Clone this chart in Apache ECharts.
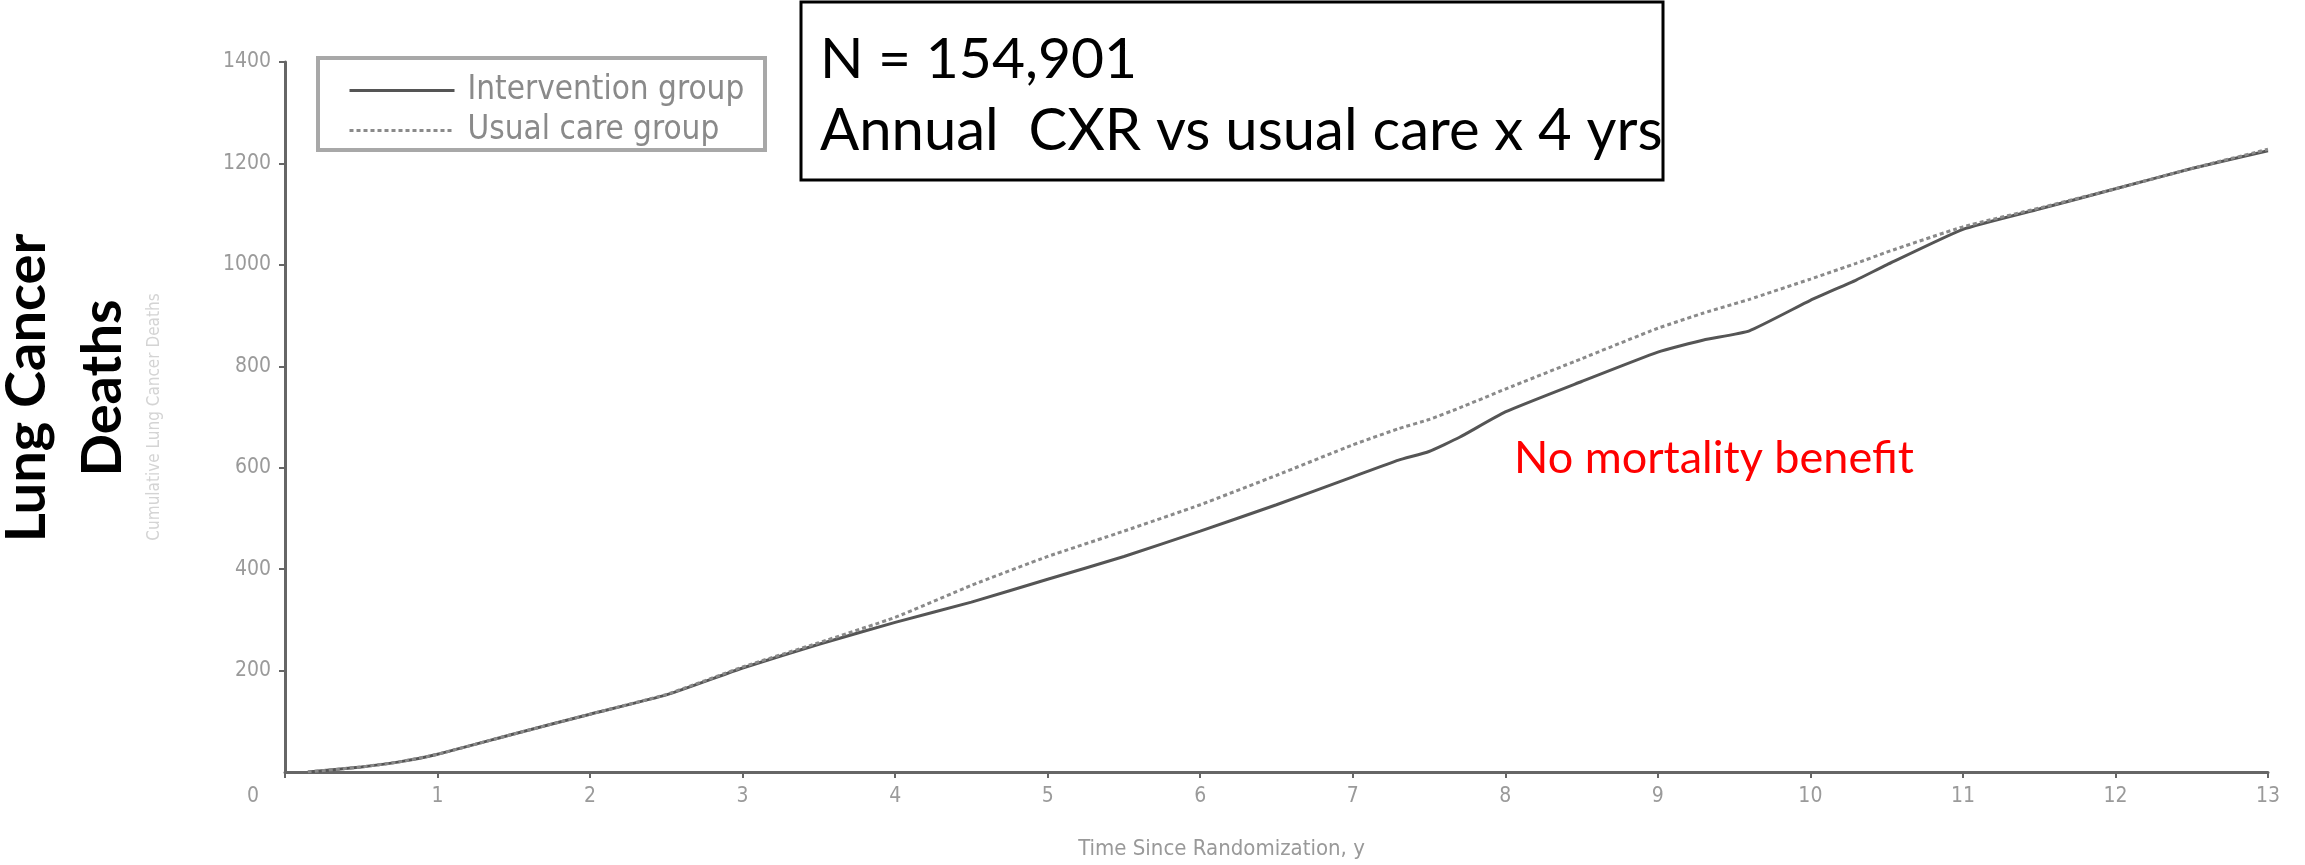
<!DOCTYPE html>
<html>
<head>
<meta charset="utf-8">
<script src="https://cdn.jsdelivr.net/npm/echarts@6/dist/echarts.min.js"></script>
<style>
  html, body { margin: 0; padding: 0; background: #fff; }
  #chart { width: 2305px; height: 865px; }
</style>
</head>
<body>
<div id="chart"></div>
<script>
// ---- Data ----
const years = [0.15, 0.5, 0.75, 1, 1.5, 2, 2.5, 3, 3.5, 4, 4.5, 5, 5.5, 6, 6.5, 7, 7.3, 7.5, 7.7, 8, 8.5, 9, 9.3, 9.6, 10, 10.3, 10.5, 11, 11.5, 12, 12.5, 13];
const intervention = [0, 10, 20, 35, 75, 114, 152, 205, 252, 295, 335, 380, 425, 475, 527, 582, 615, 632, 660, 710, 770, 828, 852, 870, 930, 970, 1000, 1070, 1110, 1150, 1190, 1225];
const usualCare    = [0, 10, 20, 35, 75, 114, 153, 207, 255, 305, 368, 425, 475, 527, 585, 645, 677, 695, 718, 755, 815, 875, 905, 932, 972, 1003, 1025, 1075, 1112, 1150, 1190, 1228];
const seriesNames = ['Intervention group', 'Usual care group'];
const xTicks = { min: 0, max: 13, interval: 1 };
const yTicks = { min: 0, max: 1400, interval: 200 };
const xAxisTitle = 'Time Since Randomization, y';
const yAxisFaintTitle = 'Cumulative Lung Cancer Deaths';
const yAxisTitle = 'Lung Cancer\nDeaths';
const boxLines = ['N = 154,901', 'Annual  CXR vs usual care x 4 yrs'];
const noteText = 'No mortality benefit';

const pairs = (ys) => years.map((t, i) => [t, ys[i]]);
const narrow = "'Liberation Sans Narrow', 'DejaVu Sans Condensed', 'Liberation Sans', sans-serif";
const chart = echarts.init(document.getElementById('chart'));

chart.setOption({
  animation: false,
  backgroundColor: '#ffffff',
  grid: { left: 285, right: 37, top: 62, bottom: 83, containLabel: false },
  xAxis: {
    type: 'value', min: xTicks.min, max: xTicks.max, interval: xTicks.interval,
    name: xAxisTitle, nameLocation: 'middle', nameGap: 66,
    nameTextStyle: { color: '#999', fontSize: 22, fontFamily: narrow, padding: [0, 110, 0, 0] },
    axisLine: { lineStyle: { color: '#666', width: 3 } },
    axisTick: { length: 6, lineStyle: { color: '#666', width: 2 } },
    splitLine: { show: false },
    axisLabel: {
      color: '#9a9a9a', fontSize: 21, fontFamily: narrow, margin: 14,
      formatter: (v) => v === 0 ? '{z|0}' : String(v),
      rich: { z: { color: '#9a9a9a', fontSize: 21, fontFamily: narrow, padding: [0, 64, 0, 0] } }
    }
  },
  yAxis: {
    type: 'value', min: yTicks.min, max: yTicks.max, interval: yTicks.interval,
    name: yAxisFaintTitle, nameLocation: 'middle', nameGap: 122, nameRotate: 90,
    nameTextStyle: { color: '#d4d4d4', fontSize: 17, fontFamily: narrow },
    axisLine: { show: true, lineStyle: { color: '#666', width: 3 } },
    axisTick: { show: true, length: 6, lineStyle: { color: '#666', width: 2 } },
    splitLine: { show: false },
    axisLabel: { color: '#9a9a9a', fontSize: 21, fontFamily: narrow, margin: 14, showMinLabel: false,
                 formatter: (v) => String(v) }
  },
  legend: {
    left: 343, top: 69, orient: 'vertical',
    itemWidth: 105, itemHeight: 16, itemGap: 7,
    itemStyle: { opacity: 0 },
    lineStyle: { width: 3 },
    textStyle: { color: '#8a8a8a', fontSize: 33, fontFamily: narrow, padding: [0, 0, 0, 8] },
    data: seriesNames
  },
  series: [
    {
      name: seriesNames[0], type: 'line', data: pairs(intervention),
      symbol: 'none', showSymbol: false, smooth: 0.15,
      lineStyle: { color: '#555', width: 3 }, itemStyle: { color: '#555' }
    },
    {
      name: seriesNames[1], type: 'line', data: pairs(usualCare),
      symbol: 'none', showSymbol: false, smooth: 0.15,
      lineStyle: { color: '#8a8a8a', width: 3, type: [4, 3] }, itemStyle: { color: '#8a8a8a' }
    }
  ],
  graphic: [
    { type: 'rect', shape: { x: 318, y: 58, width: 447, height: 92 },
      style: { fill: 'none', stroke: '#a8a8a8', lineWidth: 4 } },
    { type: 'rect', shape: { x: 801, y: 2, width: 862, height: 178 },
      style: { fill: '#ffffff', stroke: '#000000', lineWidth: 3 } },
    { type: 'text', x: 820, y: 60,
      style: { text: boxLines[0], fill: '#000', font: "57px Lato, 'Open Sans', sans-serif", textVerticalAlign: 'middle' } },
    { type: 'text', x: 820, y: 131,
      style: { text: boxLines[1], fill: '#000', font: "58px Lato, 'Open Sans', sans-serif", textVerticalAlign: 'middle' } },
    { type: 'text', x: 1514, y: 458,
      style: { text: noteText, fill: '#ff0000', font: "45px Lato, 'Open Sans', sans-serif", textVerticalAlign: 'middle' } },
    { type: 'text', x: 65, y: 388, rotation: Math.PI / 2,
      style: { text: yAxisTitle, fill: '#000', font: "bold 56px Lato, 'Open Sans', sans-serif",
               textAlign: 'center', textVerticalAlign: 'middle', lineHeight: 76 } }
  ]
});
</script>
</body>
</html>
